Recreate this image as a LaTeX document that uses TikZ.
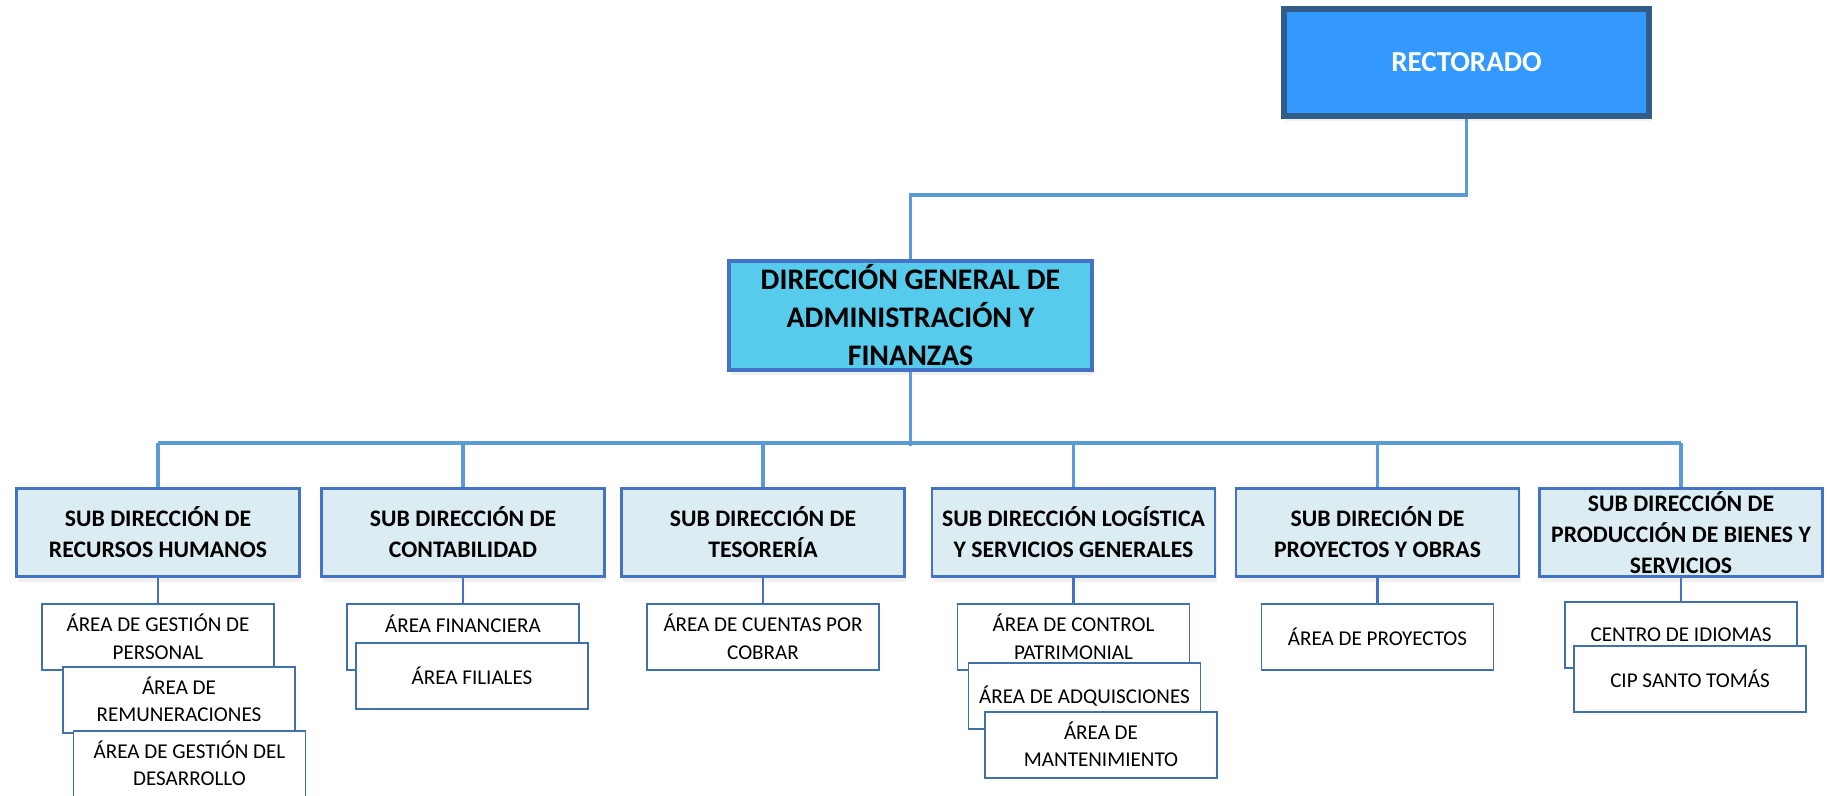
\documentclass[tikz,border=0pt]{standalone}
\usepackage{fontspec}
\setmainfont{Carlito}
\usetikzlibrary{positioning,shadows}
\definecolor{azulRect}{RGB}{52,153,254}
\definecolor{bordeRect}{RGB}{50,93,137}
\definecolor{cian}{RGB}{86,203,235}
\definecolor{azulBorde}{RGB}{68,114,196}
\definecolor{bordeArea}{RGB}{65,113,170}
\definecolor{celeste}{RGB}{219,237,243}
\definecolor{azulLinea}{RGB}{91,155,213}
\tikzstyle{rector} = [rectangle,draw=bordeRect,fill=azulRect,line width=3.4pt,minimum width=7.3cm,minimum height=2.14cm,text=white,font=\fontsize{16.5}{20}\selectfont\bfseries,drop shadow={shadow xshift=0.03cm,shadow yshift=-0.1cm,opacity=0.12}]
\tikzstyle{direc} = [rectangle,draw=azulBorde,fill=cian,line width=2.3pt,minimum width=7.26cm,minimum height=2.18cm,inner sep=1pt,align=center,font=\fontsize{17}{21.6}\selectfont\bfseries,drop shadow={shadow xshift=0.03cm,shadow yshift=-0.1cm,opacity=0.12}]
\tikzstyle{subdir} = [rectangle,draw=azulBorde,fill=celeste,line width=1.5pt,minimum width=5.66cm,minimum height=1.76cm,inner sep=1pt,align=center,font=\fontsize{13.5}{17.6}\selectfont\bfseries,drop shadow={shadow xshift=0.03cm,shadow yshift=-0.1cm,opacity=0.12}]
\tikzstyle{area} = [rectangle,draw=bordeArea,fill=white,line width=1.1pt,minimum width=4.64cm,minimum height=1.32cm,inner sep=1pt,align=center,font=\fontsize{12}{15.4}\selectfont]
\tikzstyle{conector} = [-,draw=azulLinea,line width=1.9pt]
\tikzstyle{enlace} = [-,draw=azulBorde,line width=1.6pt]

\begin{document}
\begin{tikzpicture}

	\useasboundingbox (0,0) rectangle (36.6,-15.9);

	\node[rector] (rect) at (29.33,-1.25) {RECTORADO};
	\node[direc] (dgaf) at (18.21,-6.31) {DIRECCIÓN GENERAL DE\\ADMINISTRACIÓN Y\\FINANZAS};

	%% Sub direcciones
	\node[subdir] (s1) at (3.16,-10.65) {SUB DIRECCIÓN DE\\RECURSOS HUMANOS};
	\node[subdir] (s2) at (9.26,-10.65) {SUB DIRECCIÓN DE\\CONTABILIDAD};
	\node[subdir] (s3) at (15.26,-10.65) {SUB DIRECCIÓN DE\\TESORERÍA};
	\node[subdir] (s4) at (21.47,-10.65) {SUB DIRECCIÓN LOGÍSTICA\\Y SERVICIOS GENERALES};
	\node[subdir] (s5) at (27.55,-10.65) {SUB DIRECIÓN DE\\PROYECTOS Y OBRAS};
	\node[subdir] (s6) at (33.62,-10.65) {SUB DIRECCIÓN DE\\PRODUCCIÓN DE BIENES Y\\SERVICIOS};

	%% Areas
	\node[area, below=0.5cm of s1] (a11) {ÁREA DE GESTIÓN DE\\PERSONAL};
	\node[area, below=-0.1cm of a11, xshift=0.42cm] (a12) {ÁREA DE\\REMUNERACIONES};
	\node[area, below=-0.08cm of a12, xshift=0.21cm] (a13) {ÁREA DE GESTIÓN DEL\\DESARROLLO};

	\node[area, below=0.5cm of s2] (a21) {ÁREA FINANCIERA\\\mbox{}};
	\node[area, below=-0.58cm of a21, xshift=0.18cm] (a22) {ÁREA FILIALES};

	\node[area, below=0.5cm of s3] (a31) {ÁREA DE CUENTAS POR\\COBRAR};

	\node[area, below=0.5cm of s4] (a41) {ÁREA DE CONTROL\\PATRIMONIAL};
	\node[area, below=-0.18cm of a41, xshift=0.22cm] (a42) {ÁREA DE ADQUISCIONES};
	\node[area, below=-0.38cm of a42, xshift=0.33cm] (a43) {ÁREA DE\\MANTENIMIENTO};

	\node[area, below=0.5cm of s5] (a51) {ÁREA DE PROYECTOS};

	\node[area, below=0.46cm of s6] (a61) {CENTRO DE IDIOMAS};
	\node[area, below=-0.48cm of a61, xshift=0.18cm] (a62) {CIP SANTO TOMÁS};

	%% Conectores
	\coordinate (quiebre) at (18.21,-3.9);
	\coordinate (barra) at (18.21,-8.86);

	\draw[conector] (rect.south) |- (quiebre) -- (dgaf.north);
	\draw[conector] (dgaf.south) -- ([yshift=-0.06cm]barra);
	\draw[conector] (s1.north |- barra) -- (s6.north |- barra);
	\foreach \s in {s1,s2,s3,s4,s5,s6}
		\draw[conector] (\s.north) -- (\s.north |- barra);

	\draw[enlace] (s1.south) -- (a11.north);
	\draw[enlace] (s2.south) -- (a21.north);
	\draw[enlace] (s3.south) -- (a31.north);
	\draw[enlace] (s4.south) -- (a41.north);
	\draw[enlace] (s5.south) -- (a51.north);
	\draw[enlace] (s6.south) -- (a61.north);

\end{tikzpicture}
\end{document}
